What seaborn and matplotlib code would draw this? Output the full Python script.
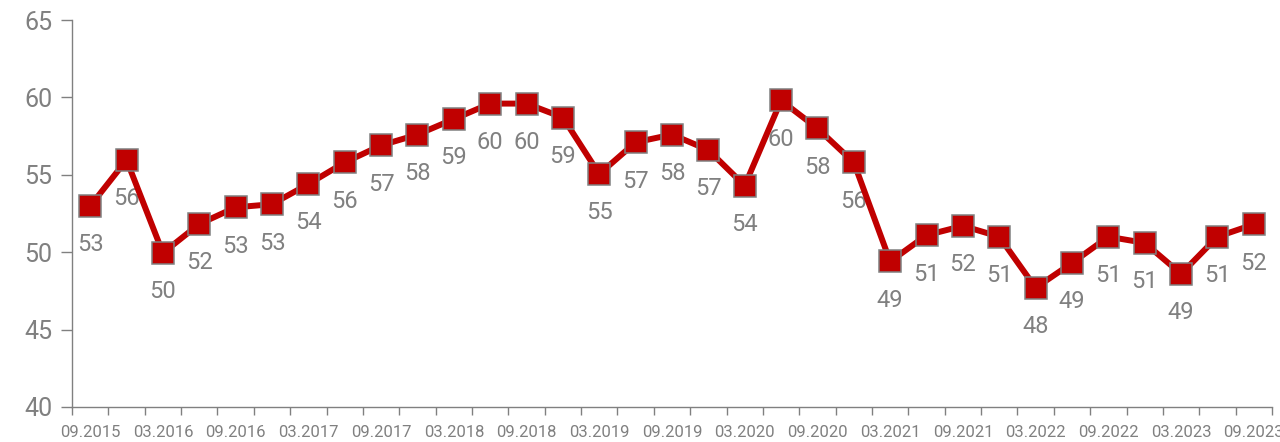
import numpy as np
import pandas as pd
import matplotlib
matplotlib.use('Agg')
import matplotlib.pyplot as plt
import seaborn as sns

# quarterly values, 09.2015 .. 09.2023
values = [52.98, 55.96, 49.95, 51.82, 52.9, 53.1, 54.4, 55.8, 56.9, 57.6,
          58.6, 59.6, 59.6, 58.7, 55.05, 57.1, 57.6, 56.6, 54.3, 59.8,
          58.0, 55.8, 49.4, 51.1, 51.7, 51.0, 47.7, 49.3, 51.0, 50.6,
          48.6, 51.0, 51.8]
point_labels = ['53', '56', '50', '52', '53', '53', '54', '56', '57', '58',
                '59', '60', '60', '59', '55', '57', '58', '57', '54', '60',
                '58', '56', '49', '51', '52', '51', '48', '49', '51', '51',
                '49', '51', '52']
tick_labels = ['09.2015', '03.2016', '09.2016', '03.2017', '09.2017', '03.2018',
               '09.2018', '03.2019', '09.2019', '03.2020', '09.2020', '03.2021',
               '09.2021', '03.2022', '09.2022', '03.2023', '09.2023']

df = pd.DataFrame({'idx': np.arange(len(values)), 'value': values})

sns.set_style('white')
plt.rcParams['font.family'] = ['Roboto', 'DejaVu Sans']

grey = '#808080'
red = '#C00000'

fig = plt.figure(figsize=(12.8, 4.42), dpi=100)
ax = fig.add_axes([72 / 1280, 1 - 407 / 442, 1200 / 1280, 387 / 442])

sns.lineplot(data=df, x='idx', y='value', ax=ax, color=red, linewidth=4.3,
             marker='s', markersize=15.5, markerfacecolor=red,
             markeredgecolor=grey, markeredgewidth=1.1, zorder=3)

# value labels sit under the markers
for i, (v, lab) in enumerate(zip(values, point_labels)):
    ax.annotate(lab, (i, v), xytext=(0, -28), textcoords='offset points',
                ha='center', va='center', fontsize=17, color=grey, zorder=2)

ax.set_xlim(-0.5, len(values) - 0.5)
ax.set_ylim(40, 65)
ax.set_yticks([40, 45, 50, 55, 60, 65])
ax.set_yticklabels(['40', '45', '50', '55', '60', '65'], fontsize=18, color=grey)

ax.set_xticks(np.arange(0, len(values), 2))
ax.set_xticklabels(tick_labels, fontsize=12, color=grey)
ax.set_xticks(np.arange(-0.5, len(values), 1), minor=True)
ax.tick_params(axis='x', which='major', bottom=True, length=0, pad=13)
ax.tick_params(axis='x', which='minor', bottom=True, length=6, color=grey, width=1)
ax.tick_params(axis='y', left=True, length=8, color=grey, width=1, pad=6)

ax.set_xlabel('')
ax.set_ylabel('')
for side in ['top', 'right']:
    ax.spines[side].set_visible(False)
for side in ['left', 'bottom']:
    ax.spines[side].set_color(grey)
    ax.spines[side].set_linewidth(1)

fig.savefig('out.png', dpi=100)
